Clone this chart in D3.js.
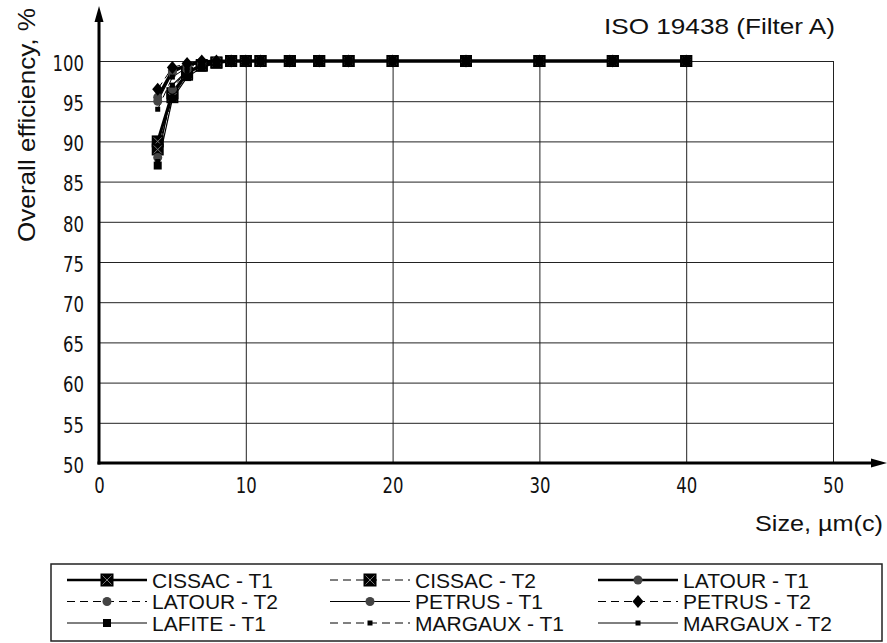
<!DOCTYPE html>
<html>
<head>
<meta charset="utf-8">
<script src="https://cdn.jsdelivr.net/npm/d3@7"></script>
<style>
  body { margin: 0; background: #fff; }
  svg { display: block; }
</style>
</head>
<body>
<svg id="chart" width="887" height="643"></svg>
<script>
// Particle size (µm(c)) at which efficiency was measured
const sizes = [4, 5, 6, 7, 8, 9, 10, 11, 13, 15, 17, 20, 25, 30, 35, 40];

// Overall efficiency (%) per test
const cissacT1  = [90.0, 96.0, 98.5, 99.5, 99.8, 100, 100, 100, 100, 100, 100, 100, 100, 100, 100, 100];
const cissacT2  = [89.0, 95.5, 98.3, 99.4, 99.8, 100, 100, 100, 100, 100, 100, 100, 100, 100, 100, 100];
const latourT1  = [95.5, 98.8, 99.5, 99.9, 100, 100, 100, 100, 100, 100, 100, 100, 100, 100, 100, 100];
const latourT2  = [88.0, 96.5, 99.0, 99.6, 99.9, 100, 100, 100, 100, 100, 100, 100, 100, 100, 100, 100];
const petrusT1  = [95.0, 98.5, 99.4, 99.8, 100, 100, 100, 100, 100, 100, 100, 100, 100, 100, 100, 100];
const petrusT2  = [96.5, 99.2, 99.7, 100, 100, 100, 100, 100, 100, 100, 100, 100, 100, 100, 100, 100];
const lafiteT1  = [87.0, 95.3, 98.0, 99.2, 99.7, 100, 100, 100, 100, 100, 100, 100, 100, 100, 100, 100];
const margauxT1 = [94.0, 98.0, 99.2, 99.7, 99.9, 100, 100, 100, 100, 100, 100, 100, 100, 100, 100, 100];
const margauxT2 = [87.5, 97.0, 98.8, 99.5, 99.9, 100, 100, 100, 100, 100, 100, 100, 100, 100, 100, 100];

const seriesNames = ["CISSAC - T1", "CISSAC - T2", "LATOUR - T1",
                     "LATOUR - T2", "PETRUS - T1", "PETRUS - T2",
                     "LAFITE - T1", "MARGAUX - T1", "MARGAUX - T2"];
const seriesValues = [cissacT1, cissacT2, latourT1, latourT2, petrusT1,
                      petrusT2, lafiteT1, margauxT1, margauxT2];

const xTicks = [0, 10, 20, 30, 40, 50];
const yTicks = [50, 55, 60, 65, 70, 75, 80, 85, 90, 95, 100];

const titleText = "ISO 19438 (Filter A)";
const xTitle = "Size, µm(c)";
const yTitle = "Overall efficiency, %";

// Line / marker style for each series (same order as seriesNames)
const styles = [
  { width: 3,   dash: null,  marker: "squareX", size: 12 },
  { width: 1,   dash: "8,5", marker: "squareX", size: 12 },
  { width: 3,   dash: null,  marker: "circle",  size: 9  },
  { width: 1,   dash: "8,5", marker: "circle",  size: 9  },
  { width: 1.2, dash: null,  marker: "circle",  size: 9  },
  { width: 1,   dash: "8,5", marker: "diamond", size: 13 },
  { width: 1.2, dash: null,  marker: "square",  size: 8  },
  { width: 1,   dash: "8,5", marker: "square",  size: 5  },
  { width: 1.2, dash: null,  marker: "square",  size: 5  }
];

const series = seriesNames.map((name, i) => ({
  name,
  style: styles[i],
  points: sizes.map((s, j) => ({ x: s, y: seriesValues[i][j] }))
}));

const svg = d3.select("#chart");
const x = d3.scaleLinear().domain([0, 50]).range([99, 833]);
const y = d3.scaleLinear().domain([50, 100]).range([463, 61]);

const tickFont = "'Liberation Sans Narrow', 'DejaVu Sans Condensed', 'Liberation Sans', sans-serif";
const textFont = "'Liberation Sans', Arial, sans-serif";

// Horizontal grid
const yGrid = svg.append("g")
  .attr("transform", `translate(${x(0)},0)`)
  .call(d3.axisLeft(y).tickValues(yTicks.filter(v => v > 50))
          .tickSize(-(x(50) - x(0))).tickFormat(""));
yGrid.select(".domain").remove();
yGrid.selectAll("line").attr("stroke", "#222").attr("stroke-width", 1);

// Vertical grid
const xGrid = svg.append("g")
  .attr("transform", `translate(0,${y(50)})`)
  .call(d3.axisBottom(x).tickValues(xTicks.filter(v => v > 0))
          .tickSize(-(y(50) - y(100))).tickFormat(""));
xGrid.select(".domain").remove();
xGrid.selectAll("line").attr("stroke", "#222").attr("stroke-width", 1);

// Tick labels (narrow technical lettering)
const yAxis = svg.append("g")
  .attr("transform", `translate(${x(0) - 15},0)`)
  .call(d3.axisLeft(y).tickValues(yTicks).tickSize(0).tickPadding(0));
yAxis.select(".domain").remove();
yAxis.selectAll("text")
  .attr("font-family", tickFont).attr("font-size", 22)
  .attr("fill", "#111").attr("dy", "0.42em")
  .attr("textLength", d => String(d).length * 10.5)
  .attr("lengthAdjust", "spacingAndGlyphs");

const xAxis = svg.append("g")
  .attr("transform", `translate(0,${y(50)})`)
  .call(d3.axisBottom(x).tickValues(xTicks).tickSize(0).tickPadding(14));
xAxis.select(".domain").remove();
xAxis.selectAll("text")
  .attr("font-family", tickFont).attr("font-size", 22)
  .attr("fill", "#111")
  .attr("textLength", d => String(d).length * 10.5)
  .attr("lengthAdjust", "spacingAndGlyphs");

// Main axes with arrow heads
svg.append("line").attr("x1", x(0)).attr("x2", x(0))
  .attr("y1", y(50) + 1.5).attr("y2", 14)
  .attr("stroke", "#000").attr("stroke-width", 3);
svg.append("path").attr("d", `M${x(0)},6 L${x(0) - 4.5},22 L${x(0) + 4.5},22 Z`)
  .attr("fill", "#000");
svg.append("line").attr("x1", x(0) - 1.5).attr("x2", 878)
  .attr("y1", y(50)).attr("y2", y(50))
  .attr("stroke", "#000").attr("stroke-width", 3);
svg.append("path").attr("d", `M887,${y(50)} L871,${y(50) - 4.5} L871,${y(50) + 4.5} Z`)
  .attr("fill", "#000");

// Titles
svg.append("text").attr("x", 604).attr("y", 34)
  .attr("font-family", textFont).attr("font-size", 22)
  .attr("textLength", 231).attr("lengthAdjust", "spacingAndGlyphs")
  .attr("fill", "#111").text(titleText);
svg.append("text").attr("x", 755).attr("y", 531)
  .attr("font-family", textFont).attr("font-size", 22)
  .attr("textLength", 128).attr("lengthAdjust", "spacingAndGlyphs")
  .attr("fill", "#111").text(xTitle);
svg.append("text")
  .attr("transform", "translate(35,125) rotate(-90)")
  .attr("text-anchor", "middle")
  .attr("font-family", textFont).attr("font-size", 24)
  .attr("textLength", 234).attr("lengthAdjust", "spacingAndGlyphs")
  .attr("fill", "#111").text(yTitle);

// Marker drawing
function drawMarker(g, type, size, cx, cy) {
  const h = size / 2;
  if (type === "squareX") {
    g.append("rect").attr("x", cx - h).attr("y", cy - h)
      .attr("width", size).attr("height", size).attr("fill", "#000");
    g.append("path")
      .attr("d", `M${cx - h + 2},${cy - h + 2}L${cx + h - 2},${cy + h - 2}M${cx + h - 2},${cy - h + 2}L${cx - h + 2},${cy + h - 2}`)
      .attr("stroke", "#777").attr("stroke-width", 1).attr("fill", "none");
  } else if (type === "circle") {
    g.append("circle").attr("cx", cx).attr("cy", cy).attr("r", h)
      .attr("fill", "#444");
  } else if (type === "diamond") {
    g.append("path")
      .attr("d", `M${cx},${cy - h}L${cx + h * 0.85},${cy}L${cx},${cy + h}L${cx - h * 0.85},${cy}Z`)
      .attr("fill", "#000");
  } else {
    g.append("rect").attr("x", cx - h).attr("y", cy - h)
      .attr("width", size).attr("height", size).attr("fill", "#000");
  }
}

// Series lines
const line = d3.line().x(d => x(d.x)).y(d => y(d.y));
const plot = svg.append("g");
series.forEach(s => {
  plot.append("path").datum(s.points)
    .attr("d", line)
    .attr("fill", "none")
    .attr("stroke", "#000")
    .attr("stroke-width", s.style.width)
    .attr("stroke-dasharray", s.style.dash);
});
// Series markers
series.forEach(s => {
  const g = plot.append("g");
  s.points.forEach(p => drawMarker(g, s.style.marker, s.style.size, x(p.x), y(p.y)));
});

// Legend
const legend = svg.append("g");
legend.append("rect").attr("x", 51).attr("y", 564)
  .attr("width", 831).attr("height", 77)
  .attr("fill", "#fff").attr("stroke", "#222").attr("stroke-width", 1.5);
const colX = [67, 330, 598];
const rowY = [580, 601.5, 623];
series.forEach((s, i) => {
  const cx0 = colX[i % 3], cy = rowY[Math.floor(i / 3)];
  const g = legend.append("g");
  g.append("line").attr("x1", cx0).attr("x2", cx0 + 80)
    .attr("y1", cy).attr("y2", cy)
    .attr("stroke", "#000").attr("stroke-width", s.style.width === 3 ? 2.5 : 1)
    .attr("stroke-dasharray", s.style.dash);
  drawMarker(g, s.style.marker, s.style.marker === "squareX" ? 13 : s.style.size, cx0 + 40, cy);
  g.append("text").attr("x", cx0 + 85).attr("y", cy + 7.5)
    .attr("font-family", textFont).attr("font-size", 21)
    .attr("fill", "#111").text(s.name);
});
</script>
</body>
</html>
